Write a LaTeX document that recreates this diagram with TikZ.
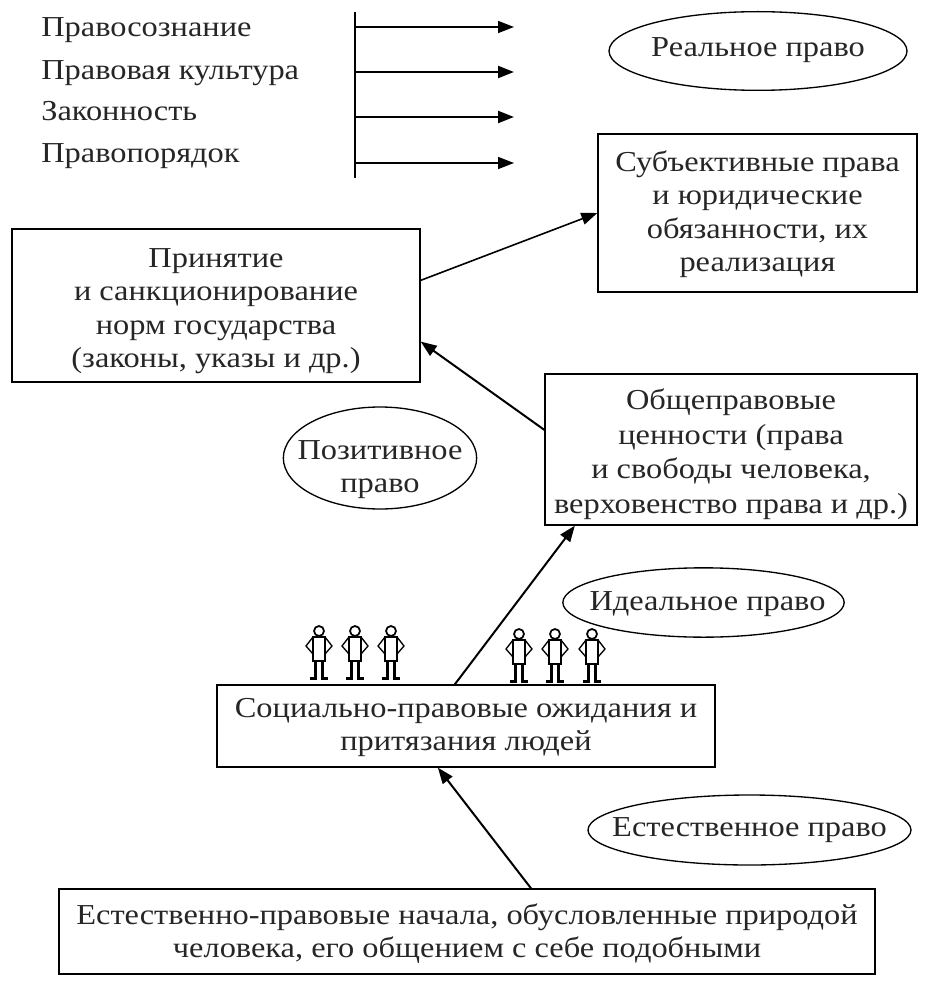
\documentclass[tikz,border=0pt]{standalone}
\usepackage{fontspec}
\setmainfont[FakeStretch=1.12]{Liberation Serif}
\usetikzlibrary{arrows.meta, shapes.geometric}

\newcommand{\lift}[1]{\rule{0pt}{#1}}

\tikzset{
	txt/.style = {font = \fontsize{21.7pt}{25pt}\selectfont, align = center, text = black!85},
	box/.style = {txt, draw, line width = 1pt, inner sep = 0pt, minimum width = #1},
	oval/.style = {txt, draw, ellipse, line width = 1pt, inner sep = -18pt},
	arr/.style = {-{Triangle[length = 12pt, width = 9pt]}, line width = 1.2pt},
	person/.pic = {
		\draw [line width = 1.3pt] (0, 0) circle (5);
		\draw [line width = 1pt] (-6, 6) -- (-13, 15) -- (-6, 23);
		\draw [line width = 1pt] (6, 6) -- (13, 15) -- (6, 23);
		\draw [line width = 2pt] (-3.5, 30) -- (-3.5, 47) (3.5, 30) -- (3.5, 47);
		\draw [line width = 2.2pt] (-9, 47.5) -- (-2, 47.5) (2, 47.5) -- (9, 47.5);
		\draw [line width = 1.4pt, fill = white] (-6, 6) rectangle (6, 30);
	}
}

\begin{document}
\begin{tikzpicture}[x = 0.75pt, y = -0.75pt]
	\useasboundingbox [fill = white] (0, 0) rectangle (930, 984);

	% left list with its bar
	\coordinate (bar top) at (355, 12);
	\coordinate (bar bottom) at (355, 178);
	\draw [line width = 1.2pt] (bar top) -- (bar bottom);
	\foreach \y/\name/\wid/\base in {27/Правосознание/1.2pt/37, 72/Правовая культура/1.7pt/80, 117/Законность/1.7pt/121, 163/Правопорядок/1.2pt/163}{
		\node [txt, anchor = base west, inner sep = 0pt] (label\y) at (41, \base) {\name};
		\coordinate (tip\y) at (514, \y);
		\draw [arr, line width = \wid] (bar top |- tip\y) -- (tip\y);
	}

	% boxes
	\node [box = 408*0.75pt, minimum height = 114.75pt, text depth = 0pt] (accept) at (216, 305.5) {\lift{18pt}Принятие\\и санкционирование\\норм государства\\(законы, указы и др.)};
	\node [box = 319*0.75pt, minimum height = 118.5pt, text depth = 3pt] (rights) at (757.5, 213) {Субъективные права\\и юридические\\обязанности, их\\реализация};
	\node [box = 372*0.75pt, minimum height = 113.25pt, text depth = 0pt, font = \fontsize{21.7pt}{26pt}\selectfont] (values) at (731, 449.5) {\lift{18pt}Общеправовые\\ценности (права\\и свободы человека,\\верховенство права и др.)};
	\node [box = 498*0.75pt, minimum height = 61.5pt, text depth = 2pt] (social) at (466, 726) {Социально-правовые ожидания и\\притязания людей};
	\node [box = 816*0.75pt, minimum height = 63.75pt, text depth = 1.5pt] (nature) at (467, 931.5) {Естественно-правовые начала, обусловленные природой\\человека, его общением с себе подобными};

	% ovals
	\node [oval, minimum width = 223.5pt, minimum height = 59pt, text depth = 6pt] (real) at (758, 51) {Реальное право};
	\node [oval, minimum width = 145pt, minimum height = 76.5pt, text depth = 0pt] (positive) at (380, 458) {\lift{27pt}Позитивное\\право};
	\node [oval, minimum width = 211pt, minimum height = 52pt, text depth = 1.5pt] (ideal) at (703.5, 602.5) {\hspace*{6pt}Идеальное право};
	\node [oval, minimum width = 242.25pt, minimum height = 52.5pt, text depth = 4.5pt] (natural) at (749.5, 830) {Естественное право};

	% people
	\foreach \x in {319, 355, 391}{
		\pic at (\x, 631) {person};
	}
	\foreach \x in {519, 555, 592}{
		\pic at (\x, 634) {person};
	}

	% arrows
	\draw [arr] (accept.7.5) -- (rights.west);
	\draw [arr, line width = 1.5pt] (values.174) -- (accept.-10);
	\draw [arr, line width = 1.5pt] (social.105) -- (values.206);
	\draw [arr, line width = 1.5pt] (nature.34) -- (social.236);
\end{tikzpicture}
\end{document}
